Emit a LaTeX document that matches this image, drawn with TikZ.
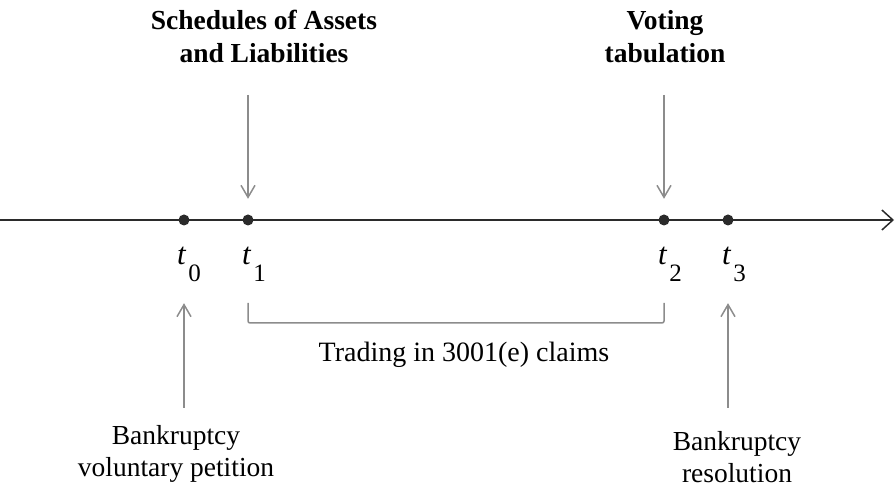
\documentclass[tikz,border=0pt]{standalone}
\usepackage{fontspec}
\setmainfont{Liberation Serif}
\usetikzlibrary{arrows.meta}
\definecolor{axisdark}{HTML}{2B2B2B}
\definecolor{pointgray}{HTML}{8C8C8C}

\begin{document}
\begin{tikzpicture}[x=1pt,y=1pt,
	every node/.style={font=\fontsize{27.5}{32.5}\selectfont},
	dot/.style={circle,fill=axisdark,inner sep=0pt,minimum size=11pt},
	pointer/.style={draw=pointgray,line width=1.5pt,-{Straight Barb[length=12pt,width=14pt]}},
	lbl/.style={align=center,anchor=base,inner sep=0pt},
	tlab/.style={anchor=base west,inner sep=0pt,font=\fontsize{31}{34}\selectfont}]

	\useasboundingbox (0,0) rectangle (896,494);

	% time axis
	\coordinate (start) at (0,274);
	\coordinate (end) at (894,274);
	\draw[axisdark,line width=1.5pt,-{Straight Barb[length=11pt,width=20pt]}] (start) -- (end);

	\node[dot] (t0) at (184,274) {};
	\node[dot] (t1) at (248,274) {};
	\node[dot] (t2) at (664,274) {};
	\node[dot] (t3) at (728,274) {};

	\node[tlab] (l0) at (177,229) {\textit{t}\kern2pt\raisebox{-17pt}{\fontsize{25}{30}\selectfont 0}};
	\node[tlab] (l1) at (242,229) {\textit{t}\kern2pt\raisebox{-17pt}{\fontsize{25}{30}\selectfont 1}};
	\node[tlab] (l2) at (658,229) {\textit{t}\kern2pt\raisebox{-17pt}{\fontsize{25}{30}\selectfont 2}};
	\node[tlab] (l3) at (722,229) {\textit{t}\kern2pt\raisebox{-17pt}{\fontsize{25}{30}\selectfont 3}};

	% events above
	\node[lbl,font=\fontsize{27.5}{33}\selectfont\bfseries] (sched) at (264,431) {Schedules of Assets\\and Liabilities};
	\node[lbl,font=\fontsize{27.5}{33}\selectfont\bfseries] (vote) at (665,431) {Voting\\tabulation};
	\coordinate (s1) at (248,399);
	\coordinate (s2) at (664,399);
	\draw[pointer,shorten >=15.5pt] (s1) -- (t1);
	\draw[pointer,shorten >=15.5pt] (s2) -- (t2);

	% events below
	\coordinate (p0) at (184,86);
	\coordinate (p3) at (728,86);
	\draw[pointer,shorten >=77.5pt] (p0) -- (t0);
	\draw[pointer,shorten >=77.5pt] (p3) -- (t3);
	\node[lbl] (petition) at (176,17) {Bankruptcy\\voluntary petition};
	\node[lbl] (resol) at (737,11) {Bankruptcy\\resolution};

	% trading window
	\coordinate (b1) at (248,191);
	\coordinate (b2) at (664,191);
	\draw[pointgray,line width=1.5pt,rounded corners=2pt] (b1) -- ++(0,-20) -| (b2);
	\node[lbl,font=\fontsize{28}{33}\selectfont] (trade) at (464,132) {Trading in 3001(e) claims};

\end{tikzpicture}
\end{document}
